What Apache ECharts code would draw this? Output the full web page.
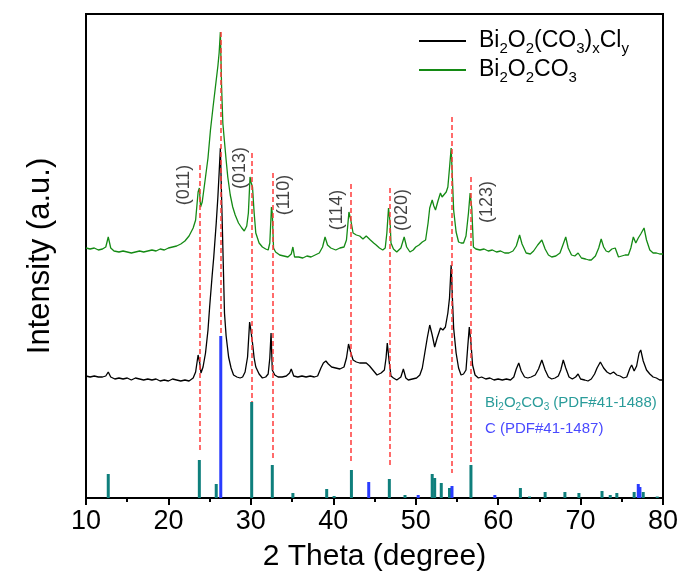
<!DOCTYPE html>
<html><head><meta charset="utf-8">
<script src="https://cdn.jsdelivr.net/npm/echarts@6/dist/echarts.min.js"></script>
<style>html,body{margin:0;padding:0;background:#fff}#c{width:682px;height:584px}</style>
</head><body><div id="c"></div>
<script>
// ---- data ----
const xTicks = [10, 20, 30, 40, 50, 60, 70, 80];
const seriesNames = ['Bi2O2(CO3)xCly', 'Bi2O2CO3'];

// Bi2O2(CO3)xCly pattern (black), [2theta, intensity]
const blackCurve = [
[10.0,122],[10.5,121],[11.0,122],[11.5,121],[12.0,121],[12.4,122],[12.7,126],[13.0,121],[13.5,119],[14.0,120],
[14.5,119],[15.0,120],[15.5,118],[16.0,120],[16.5,119],[17.0,118],[17.5,119],[18.0,118],[18.5,119],[19.0,117],
[19.5,118],[20.0,117],[20.5,119],[21.0,118],[21.5,117],[22.0,118],[22.5,117],[23.0,120],[23.3,126],[23.6,143],
[23.8,135],[23.95,125],[24.2,131],[24.5,145],[24.8,168],[25.0,191],[25.3,222],[25.5,241],[25.8,275],[26.0,301],
[26.15,325],[26.3,350],[26.45,300],[26.55,268],[26.8,185],[27.0,162],[27.3,141],[27.6,130],[27.9,123],[28.3,121],
[28.7,120],[29.0,121],[29.3,126],[29.6,141],[29.85,176],[30.0,168],[30.2,155],[30.4,140],[30.6,131],[31.0,124],
[31.4,120],[31.8,121],[32.1,124],[32.3,140],[32.45,165],[32.6,128],[32.9,123],[33.3,121],[33.8,121],[34.3,122],
[34.7,125],[34.9,129],[35.2,122],[35.7,121],[36.2,122],[36.7,121],[37.2,122],[37.7,121],[38.1,122],[38.5,130],
[38.8,135],[39.1,137],[39.4,134],[39.8,131],[40.3,130],[40.8,129],[41.3,131],[41.6,140],[41.85,154],[42.1,146],
[42.4,138],[42.8,136],[43.2,135],[43.6,135],[44.0,135],[44.4,132],[44.8,128],[45.3,123],[45.8,125],[46.2,128],
[46.4,140],[46.55,155],[46.8,135],[47.0,122],[47.3,120],[47.7,118],[48.2,121],[48.5,129],[48.8,120],[49.1,118],
[49.6,119],[50.1,120],[50.5,123],[50.8,130],[51.1,145],[51.4,160],[51.7,173],[52.0,163],[52.3,151],[52.6,160],
[53.0,170],[53.3,168],[53.6,171],[53.9,185],[54.1,200],[54.3,233],[54.45,200],[54.6,170],[54.9,145],[55.2,130],
[55.5,123],[55.8,124],[56.1,128],[56.3,150],[56.5,171],[56.7,155],[56.9,133],[57.2,123],[57.6,120],[58.0,121],
[58.5,119],[59.0,120],[59.5,118],[60.0,119],[60.5,118],[61.0,119],[61.5,118],[61.9,121],[62.2,129],[62.5,135],
[62.8,127],[63.2,121],[63.6,120],[64.0,121],[64.5,123],[64.9,129],[65.3,138],[65.7,128],[66.1,121],[66.5,119],
[66.9,120],[67.3,122],[67.6,128],[67.9,138],[68.2,130],[68.6,121],[69.0,119],[69.4,121],[69.7,124],[70.0,119],
[70.5,118],[70.9,117],[71.3,119],[71.7,124],[72.0,130],[72.4,136],[72.8,130],[73.2,126],[73.6,124],[74.0,126],
[74.4,123],[74.8,122],[75.2,120],[75.6,121],[76.0,130],[76.2,133],[76.5,127],[76.8,132],[77.1,145],[77.3,148],
[77.6,137],[78.0,128],[78.4,124],[78.8,121],[79.2,120],[79.6,118],[80.0,118]
];

// Bi2O2CO3 pattern (green), [2theta, intensity]
const greenCurve = [
[10.0,250],[10.5,249],[11.0,250],[11.5,248],[12.0,249],[12.4,251],[12.7,261],[13.0,250],[13.4,247],[14.0,246],
[14.5,247],[15.0,246],[15.5,245],[16.0,246],[16.5,247],[17.0,246],[17.5,247],[18.0,248],[18.5,247],[19.0,249],
[19.5,248],[20.0,250],[20.5,251],[21.0,252],[21.5,254],[22.0,257],[22.5,262],[23.0,270],[23.3,278],[23.6,306],
[23.75,310],[23.9,291],[24.1,296],[24.5,321],[24.8,340],[25.1,368],[25.4,390],[25.7,411],[26.0,432],[26.15,445],
[26.3,466],[26.45,411],[26.6,375],[26.75,361],[27.0,338],[27.2,321],[27.5,303],[27.8,291],[28.1,283],[28.5,275],
[28.9,270],[29.2,267],[29.5,272],[29.7,285],[29.9,321],[30.05,315],[30.2,311],[30.4,285],[30.6,265],[31.0,255],
[31.4,251],[31.8,249],[32.1,248],[32.3,255],[32.5,291],[32.6,285],[32.75,250],[33.0,246],[33.5,243],[34.0,242],
[34.5,241],[34.9,244],[35.1,251],[35.3,241],[35.8,241],[36.3,240],[36.8,242],[37.3,241],[37.8,243],[38.3,245],
[38.7,251],[39.0,261],[39.3,253],[39.7,250],[40.3,248],[40.8,250],[41.3,251],[41.6,258],[41.9,286],[42.1,279],
[42.4,265],[42.8,263],[43.2,262],[43.6,259],[44.0,262],[44.2,263],[44.5,258],[44.9,255],[45.2,253],[45.6,250],
[46.0,248],[46.3,250],[46.5,265],[46.7,290],[46.9,275],[47.0,255],[47.3,249],[47.7,246],[48.2,250],[48.6,261],
[48.9,251],[49.3,246],[49.7,248],[50.0,251],[50.4,253],[50.8,256],[51.2,258],[51.5,275],[51.7,290],[52.0,298],
[52.2,292],[52.4,288],[52.7,297],[53.0,305],[53.2,301],[53.4,301],[53.7,306],[53.9,311],[54.1,330],[54.3,350],
[54.45,320],[54.6,288],[54.9,266],[55.2,256],[55.5,255],[55.8,255],[56.1,262],[56.4,285],[56.6,305],[56.8,290],
[57.0,251],[57.3,249],[57.8,248],[58.3,249],[58.8,247],[59.3,248],[59.8,246],[60.3,247],[60.8,245],[61.3,245],
[61.8,247],[62.2,252],[62.6,263],[62.9,254],[63.4,245],[63.9,244],[64.3,247],[64.8,253],[65.3,258],[65.7,249],
[66.1,243],[66.5,241],[67.0,242],[67.5,245],[67.9,254],[68.2,261],[68.5,250],[68.9,243],[69.3,242],[69.7,245],
[70.1,240],[70.6,239],[71.0,238],[71.3,238],[71.8,242],[72.2,250],[72.5,259],[72.8,251],[73.1,247],[73.4,246],
[73.8,249],[74.2,250],[74.6,241],[75.0,242],[75.4,243],[75.8,243],[76.1,250],[76.4,261],[76.7,255],[77.0,260],
[77.3,264],[77.7,270],[78.0,258],[78.4,248],[78.8,245],[79.2,245],[79.6,244],[80.0,244]
];

// Reference sticks
const refBi2O2CO3 = [
[12.7,24],[23.75,38],[25.8,14],[30.1,96],[32.6,33],[35.1,5],[39.2,9],[40.1,2],[42.2,28],[46.8,19],
[48.7,3],[52.0,24],[52.3,20],[53.1,15],[54.1,10],[56.7,33],[62.7,10],[63.8,1.5],[65.7,6],[68.1,6],
[69.8,5],[72.6,7],[73.6,3],[74.4,5],[76.5,6],[77.6,6],[79.3,1.5]
];
const refC = [[26.35,162],[44.3,16],[50.3,3],[54.4,12],[59.6,3],[77.0,14],[77.2,11]];

// Indexed peaks (red dashed guides): position, top, bottom
const guideX = [23.8, 26.4, 30.1, 32.6, 42.1, 46.8, 54.35, 56.7];
const guideTop = [333, 466, 345, 325, 314, 310, 381, 321];
const guideBottom = [48, 165, 96, 38, 36, 31, 25, 33];

// hkl labels and anchor points
const hklText = ['(011)', '(013)', '(110)', '(114)', '(020)', '(123)'];
const hklX = [21.9, 28.7, 34.0, 40.5, 48.4, 58.6];
const hklY = [313, 330, 303, 288, 288, 296];

const refTexts = ['Bi2O2CO3 (PDF#41-1488)', 'C (PDF#41-1487)'];

// ---- chart ----
const FONT = "'Liberation Sans', Arial, sans-serif";
const chart = echarts.init(document.getElementById('c'), null, {renderer: 'canvas'});

function sub(name) {
  return name.replace(/([A-Za-z\)])([0-9xy]+)/g, function(m, a, b){ return a + '{s|' + b + '}'; })
             .split(/(\{s\|[^}]*\})/).map(p => p.startsWith('{s|') ? p : (p ? '{n|' + p + '}' : '')).join('');
}

const guideLines = guideX.map((x, i) => [{coord: [x, guideTop[i]]}, {coord: [x, guideBottom[i]]}]);
const hklData = hklText.map((t, i) => [hklX[i], hklY[i], t]);

chart.setOption({
  animation: false,
  backgroundColor: '#fff',
  grid: {left: 86, right: 19, top: 14, bottom: 86, show: true, borderColor: '#000', borderWidth: 2, backgroundColor: 'transparent'},
  xAxis: {
    type: 'value', min: 10, max: 80, interval: 10,
    name: '2 Theta (degree)', nameLocation: 'middle', nameGap: 44,
    nameTextStyle: {fontFamily: FONT, fontSize: 30, color: '#000'},
    axisLine: {show: true, onZero: false, lineStyle: {color: '#000', width: 2}},
    axisTick: {show: true, inside: false, length: 7, lineStyle: {color: '#000', width: 2}},
    minorTick: {show: true, splitNumber: 2, length: 4, lineStyle: {color: '#000', width: 2}},
    axisLabel: {fontFamily: FONT, fontSize: 27, color: '#000', margin: 10,
      formatter: v => xTicks.includes(v) ? String(v) : ''},
    splitLine: {show: false}
  },
  yAxis: {
    type: 'value', min: 0, max: 484,
    name: 'Intensity (a.u.)', nameLocation: 'middle', nameGap: 30,
    nameTextStyle: {fontFamily: FONT, fontSize: 31, color: '#000'},
    axisLine: {show: true, lineStyle: {color: '#000', width: 2}},
    axisTick: {show: false}, axisLabel: {show: false}, splitLine: {show: false}
  },
  legend: {
    data: seriesNames.map(n => ({name: n, icon: 'rect'})),
    orient: 'vertical', left: 414, top: 24, itemGap: 2,
    itemWidth: 47, itemHeight: 2,
    formatter: n => '{g|}' + sub(n),
    textStyle: {
      fontFamily: FONT, fontSize: 23, color: '#000', lineHeight: 24,
      rich: {
        g: {width: 8},
        n: {fontFamily: FONT, fontSize: 23, color: '#000'},
        s: {fontFamily: FONT, fontSize: 15, color: '#000', verticalAlign: 'bottom', lineHeight: 15, padding: [0, 0, -3, 0]}
      }
    }
  },
  series: [
    {
      name: seriesNames[0], type: 'line', data: blackCurve, symbol: 'none', z: 3,
      lineStyle: {color: '#000', width: 1.3}, itemStyle: {color: '#000'},
      markLine: {
        silent: true, symbol: 'none', label: {show: false},
        lineStyle: {color: '#ff3b3b', type: [5, 3], width: 1.5},
        data: guideLines
      }
    },
    {
      name: seriesNames[1], type: 'line', data: greenCurve, symbol: 'none', z: 3,
      lineStyle: {color: '#148a14', width: 1.3}, itemStyle: {color: '#148a14'}
    },
    {
      name: 'refB', type: 'bar', data: refBi2O2CO3, barWidth: 3, barGap: '-100%',
      itemStyle: {color: '#0f7f7c'}, z: 2
    },
    {
      name: 'refC', type: 'bar', data: refC, barWidth: 3, barGap: '-100%',
      itemStyle: {color: '#2a3cff'}, z: 2
    },
    {
      name: 'hkl', type: 'scatter', data: hklData, symbolSize: 0, silent: true, z: 4,
      label: {show: true, position: 'inside', rotate: 90, formatter: p => p.value[2],
        fontFamily: FONT, fontSize: 18, color: '#111'}
    }
  ],
  graphic: [
    {type: 'text', left: 485, top: 395, style: {
      text: sub(refTexts[0].split(' ')[0]) + '{n| ' + refTexts[0].split(' ')[1] + '}', fill: '#2a9c9a', font: '15px ' + FONT,
      rich: {n: {fontFamily: FONT, fontSize: 15, fill: '#2a9c9a'}, s: {fontFamily: FONT, fontSize: 10, fill: '#2a9c9a', verticalAlign: 'bottom', lineHeight: 10, padding: [0,0,-2,0]}}
    }},
    {type: 'text', left: 485, top: 421, style: {
      text: refTexts[1], fill: '#4a4aff', font: '15px ' + FONT
    }}
  ]
});
</script>
</body></html>
